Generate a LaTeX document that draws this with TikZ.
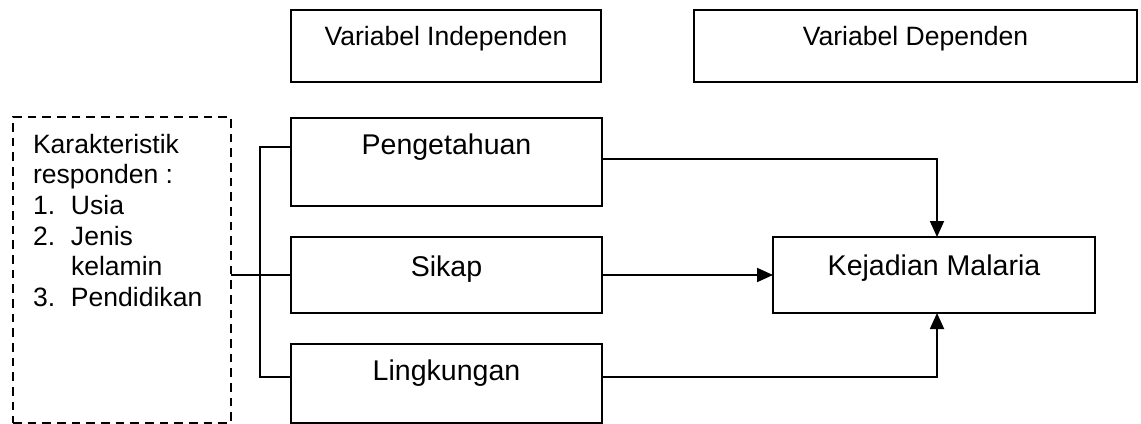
\documentclass[tikz,border=0pt]{standalone}
\usepackage{fontspec}
\setmainfont{Liberation Sans}
\usetikzlibrary{arrows.meta}

\begin{document}
\begin{tikzpicture}[x=0.75pt, y=-0.75pt,
  every node/.style={inner sep=0pt, outer sep=0pt},
  varbox/.style={draw, line width=1.4pt, anchor=north west, align=center,
    font=\fontsize{21.4}{24}\selectfont},
  headbox/.style={draw, line width=1.4pt, anchor=north west,
    font=\fontsize{19.9}{23}\selectfont,
    text height=27pt, text depth=27pt},
  respbox/.style={draw, line width=1.4pt, dash pattern=on 6.5pt off 4.5pt,
    anchor=north west},
  link/.style={line width=1.4pt},
  arr/.style={line width=1.4pt, -{Triangle[length=12pt, width=10.5pt]}}
]
\useasboundingbox (0,0) rectangle (1141,424);

% column headings
\node[headbox, minimum width=232.5pt] (hind) at (291,10) {Variabel Independen};
\node[headbox, minimum width=332.25pt] (hdep) at (694,10) {Variabel Dependen};

% respondent characteristics
\node[respbox, minimum width=163.5pt, minimum height=229.5pt] (kar) at (13,117) {};
\node[anchor=north west, align=left, font=\fontsize{19.9}{23}\selectfont] (kar-t) at (33,134)
  {Karakteristik\\
   responden :\\
   \makebox[28.5pt][l]{1.}Usia\\
   \makebox[28.5pt][l]{2.}Jenis\\
   \makebox[28.5pt][l]{}kelamin\\
   \makebox[28.5pt][l]{3.}Pendidikan};

% independent variables
\node[varbox, minimum width=233.25pt, text height=27.75pt, text depth=38.25pt] (peng) at (291,118) {Pengetahuan};
\node[varbox, minimum width=233.25pt, text height=29.25pt, text depth=27.75pt] (sikap) at (291,237) {Sikap};
\node[varbox, minimum width=233.25pt, text height=27pt, text depth=32.25pt] (ling) at (291,344) {Lingkungan};

% dependent variable
\node[varbox, minimum width=241.5pt, text height=28.5pt, text depth=28.5pt] (kej) at (773,237) {Kejadian Malaria};

% helper coordinates
\coordinate (bx) at (260,0);
\coordinate (ax) at (937,0);
\coordinate (pA) at ([yshift=11.25pt]peng.west);
\coordinate (lA) at ([yshift=4.9pt]ling.west);
\coordinate (pB) at ([yshift=2.25pt]peng.east);
\coordinate (lB) at ([yshift=4.9pt]ling.east);

% bracket joining the characteristics to the variables
\draw[link] (pA) -- (pA -| bx) -- (lA -| bx) -- (lA);
\draw[link] (kar.east |- sikap.west) -- (sikap.west);

% arrows to the outcome
\draw[arr] (pB) -| (ax |- kej.north);
\draw[arr] (sikap.east) -- (kej.west);
\draw[arr] (lB) -| (ax |- kej.south);
\end{tikzpicture}
\end{document}
